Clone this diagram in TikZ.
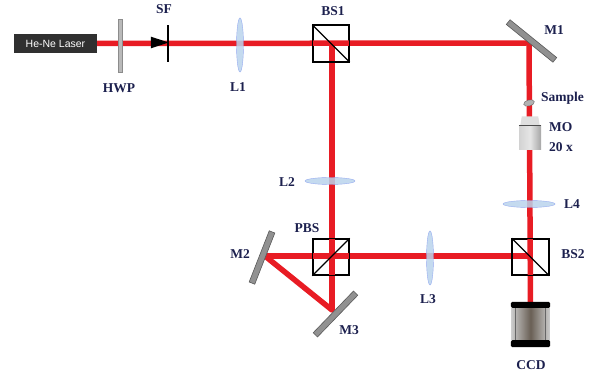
\documentclass[tikz,border=0pt]{standalone}
\usepackage{fontspec}
\setmainfont{Liberation Serif}
\newfontfamily\lasfont{Liberation Sans}
\usetikzlibrary{calc,shapes.geometric}
\definecolor{beamred}{RGB}{232,28,36}
\definecolor{lblblue}{RGB}{28,32,78}
\definecolor{lensblue}{RGB}{186,212,236}
\definecolor{mirgray}{RGB}{145,145,145}
\definecolor{lasgray}{RGB}{48,48,48}
\begin{document}
\begin{tikzpicture}[x=1pt,y=-1pt,
  beam/.style={beamred, line width=5.5pt},
  mirror/.style={draw=black!65, fill=mirgray, minimum height=6pt, inner sep=0pt, line width=0.6pt},
  lens/.style={ellipse, draw=lensblue!80!blue, fill=lensblue, fill opacity=0.85, inner sep=0pt, line width=0.4pt},
  cube/.style={draw=black, line width=1.3pt, minimum size=36pt, inner sep=0pt},
  lbl/.style={text=lblblue, font=\bfseries\fontsize{13.5}{13.5}\selectfont, inner sep=0pt}
]
\useasboundingbox (0,0) rectangle (592,379);

% source
\node[fill=lasgray, minimum width=83pt, minimum height=19pt, inner sep=0pt,
      text=white, font=\lasfont\fontsize{10.5}{10.5}\selectfont] (laser) at (55.5,43.5) {He-Ne Laser};

% beam corners
\coordinate (m1c) at (529,43);
\coordinate (bs1c) at (332,43);
\coordinate (pbsc) at (332,256);
\coordinate (m2c) at (265,256);
\coordinate (m3c) at (332,310);
\coordinate (bs2c) at (529,256);

% beam splitter cubes and camera (placed first so the beam anchors exist)
\node[cube] (bs1) at (331,43.5) {};
\node[cube] (pbs) at (331,257) {};
\node[cube] (bs2) at (530.5,257) {};
\node[minimum width=38pt, minimum height=40pt, inner sep=0pt] (ccd) at (530.5,325) {};

% laser beams
\draw[beam] (laser.east) -- (m1c) -- (ccd.north);
\draw[beam] (bs1c) -- (m3c);
\draw[beam] (m2c) -- (bs2c);
\draw[beam, line cap=round] (m2c) -- (m3c);

% beam splitter cubes
\draw[line width=1.3pt] (bs1.north west) rectangle (bs1.south east);
\draw[line width=1.1pt] (bs1.north west) -- (bs1.south east);
\draw[line width=1.3pt] (pbs.north west) rectangle (pbs.south east);
\draw[line width=1.1pt] (pbs.south west) -- (pbs.north east);
\draw[line width=1.3pt] (bs2.north west) rectangle (bs2.south east);
\draw[line width=1.1pt] (bs2.north west) -- (bs2.south east);

% half-wave plate and spatial filter
\node[draw=black!45, fill=gray!55, minimum width=4pt, minimum height=53pt, inner sep=0pt] (hwp) at (120,45.5) {};
\node[fill=black, isosceles triangle, isosceles triangle apex angle=36, minimum height=18pt, inner sep=0pt] (sfarrow) at (155,42.5) {};
\node[fill=black, minimum width=2pt, minimum height=37pt, inner sep=0pt] (sf) at (168,43.5) {};

% lenses
\node[lens, minimum width=7pt, minimum height=54pt] (l1) at (240,45) {};
\node[lens, minimum width=50pt, minimum height=7pt] (l2) at (330,181) {};
\node[lens, minimum width=7pt, minimum height=54pt] (l3) at (430,258) {};
\node[lens, minimum width=52pt, minimum height=7pt] (l4) at (529,204) {};

% mirrors
\node[mirror, minimum width=60pt, rotate=-39] (m1) at (531.5,41) {};
\node[mirror, minimum width=55pt, rotate=68.6] (m2) at (262,257.5) {};
\node[mirror, minimum width=58pt, rotate=46] (m3) at (335.5,314) {};

% sample and microscope objective
\node[ellipse, draw=black!60, fill=gray!60, minimum width=11pt, minimum height=6pt, inner sep=0pt, rotate=15] (sample) at (529,103) {};
\node[minimum width=22pt, minimum height=24pt, inner sep=0pt,
      left color=gray!35, right color=gray!70, middle color=gray!20] (mo) at (530,137.5) {};
\fill[gray!25] ($(mo.north west)+(1.5,0)$) -- ($(mo.north west)+(3,-9)$) -- ($(mo.north east)+(-3,-9)$) -- ($(mo.north east)+(-1.5,0)$) -- cycle;
\draw[black!70, line width=0.8pt] (mo.north west) -- (mo.north east);

% CCD camera
\shade[left color=gray!40, right color=gray!40, middle color={rgb,255:red,105;green,95;blue,85}]
  (ccd.north west) rectangle (ccd.south east);
\draw[black!60, line width=0.5pt] ($(ccd.north west)+(4,0)$) -- ($(ccd.south west)+(4,0)$)
      ($(ccd.north east)+(-4,0)$) -- ($(ccd.south east)+(-4,0)$);
\fill[black, rounded corners=1.5pt] ($(ccd.north west)+(-0.5,-3)$) rectangle ($(ccd.north east)+(0.5,3)$);
\fill[black, rounded corners=1.5pt] ($(ccd.south west)+(-0.5,-5)$) rectangle ($(ccd.south east)+(0.5,2)$);

% labels
\node[lbl] (thwp) at (119,88) {HWP};
\node[lbl] (tsf) at (164,9) {SF};
\node[lbl] (tl1) at (238,87) {L1};
\node[lbl] (tbs1) at (333,11) {BS1};
\node[lbl] (tm1) at (554,30) {M1};
\node[lbl, anchor=west] (tsample) at (541,98) {Sample};
\node[lbl, anchor=west] (tmo) at (549,127) {MO};
\node[lbl, anchor=west] (tmag) at (549,147) {20 x};
\node[lbl] (tl2) at (287,182) {L2};
\node[lbl] (tl4) at (572,204) {L4};
\node[lbl] (tpbs) at (307,228) {PBS};
\node[lbl] (tbs2) at (573,254) {BS2};
\node[lbl] (tm2) at (240,254) {M2};
\node[lbl] (tl3) at (428,299) {L3};
\node[lbl] (tm3) at (349,330) {M3};
\node[lbl] (tccd) at (531,365) {CCD};
\end{tikzpicture}
\end{document}
